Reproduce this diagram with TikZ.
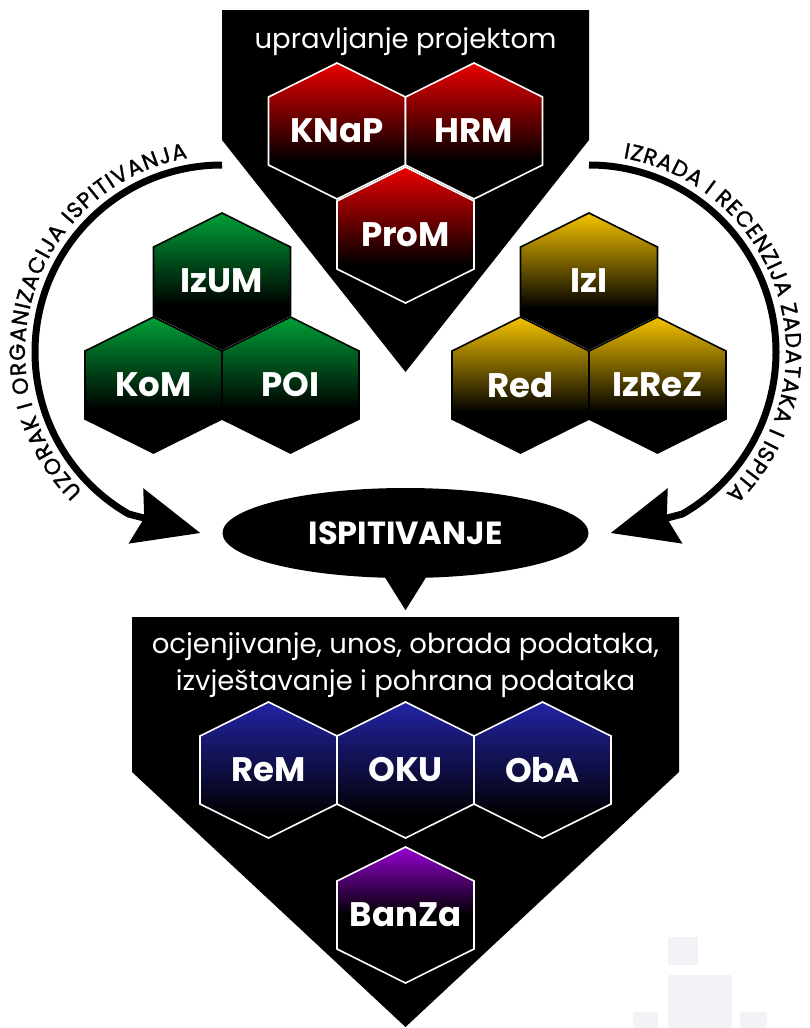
\documentclass[tikz,border=0pt]{standalone}
\usepackage{fontspec}
\setmainfont{Poppins}
\newfontfamily\arcfont{Poppins}[FakeBold=1.3]
\usetikzlibrary{shapes.geometric,arrows.meta,decorations.text,calc}
\definecolor{hexred}{RGB}{235,0,0}
\definecolor{hexgreen}{RGB}{0,160,55}
\definecolor{hexgold}{RGB}{245,195,0}
\definecolor{hexblue}{RGB}{35,35,165}
\definecolor{hexpurple}{RGB}{150,0,210}
\definecolor{iconfill}{RGB}{243,243,247}
\pgfdeclareverticalshading{redhex}{100bp}{color(0bp)=(black); color(39bp)=(black); color(75bp)=(hexred); color(100bp)=(hexred)}
\pgfdeclareverticalshading{greenhex}{100bp}{color(0bp)=(black); color(41bp)=(black); color(75bp)=(hexgreen); color(100bp)=(hexgreen)}
\pgfdeclareverticalshading{goldhex}{100bp}{color(0bp)=(black); color(40bp)=(black); color(75bp)=(hexgold); color(100bp)=(hexgold)}
\pgfdeclareverticalshading{bluehex}{100bp}{color(0bp)=(black); color(33bp)=(black); color(75bp)=(hexblue); color(100bp)=(hexblue)}
\pgfdeclareverticalshading{purplehex}{100bp}{color(0bp)=(black); color(50bp)=(black); color(75bp)=(hexpurple); color(100bp)=(hexpurple)}
\newcommand\hexcell[6]{%
  \shadedraw[shading=#4, draw=#5, line width=1.6pt, line join=miter]
    (#2,-#3+68) -- (#2+68.5,-#3+34) -- (#2+68.5,-#3-34) -- (#2,-#3-68)
    -- (#2-68.5,-#3-34) -- (#2-68.5,-#3+34) -- cycle;
  \node[hexlabel] (#1) at (#2,-#3) {#6};
}
\begin{document}
\begin{tikzpicture}[x=1pt,y=1pt,
  hexlabel/.style={text=white, inner sep=0pt, font=\bfseries\fontsize{34}{34}\selectfont},
  headtext/.style={text=white, inner sep=0pt, font=\fontsize{27.5}{37}\selectfont},
  flowarc/.style={line width=7pt, -{Stealth[length=66pt, width=56pt, inset=8pt]}},
  arctext/.style={decorate, decoration={text along path, text align={fit to path},
      text={#1}}},
  panel/.style={fill=black}]
\useasboundingbox (0,0) rectangle (809,-1028);
\fill[white] (0,0) rectangle (809,-1028);
% faint watermark
\fill[iconfill] (668,-937) rectangle (698,-965);
\fill[iconfill] (668,-975) rectangle (732,-1028);
\fill[iconfill] (633,-1012) rectangle (658,-1028);
\fill[iconfill] (740,-1012) rectangle (767,-1028);
% top panel
\fill[panel] (222,-10) -- (589,-10) -- (589,-140) -- (405.5,-372) -- (222,-140) -- cycle;
\node[headtext] (upr) at (405.5,-42) {upravljanje projektom};
\hexcell{knap}{337}{131}{redhex}{white}{KNaP}
\hexcell{hrm}{474}{131}{redhex}{white}{HRM}
\hexcell{prom}{405.5}{235}{redhex}{white}{ProM}
% green cluster
\hexcell{izum}{222}{281}{greenhex}{black}{IzUM}
\hexcell{kom}{153.5}{385}{greenhex}{black}{KoM}
\hexcell{poi}{290.5}{385}{greenhex}{black}{POI}
% gold cluster
\hexcell{izi}{589}{281}{goldhex}{black}{IzI}
\hexcell{red}{520.5}{385}{goldhex}{black}{Red}
\hexcell{izrez}{657.5}{385}{goldhex}{black}{IzReZ}
% central ellipse
\node[ellipse, fill=black, minimum width=366pt, minimum height=90pt, inner sep=0pt,
      text=white, font=\bfseries\fontsize{32}{32}\selectfont] (ispit) at (405.5,-533) {ISPITIVANJE};
\fill ($(ispit.south)+(-25,8)$) -- ($(ispit.south)+(25,8)$) -- ($(ispit.south)+(0,-32)$) -- cycle;
% arrows
\coordinate (Ls) at (222,-165);
\coordinate (Rs) at (589,-165);
\coordinate (CL) at (222,-352);
\coordinate (CR) at (589,-352);
\draw[flowarc] (Ls) arc[start angle=90, end angle=240, radius=187] -- ($(ispit.west)+(-22,0)$);
\draw[flowarc] (Rs) arc[start angle=90, end angle=-60, radius=187] -- ($(ispit.east)+(22,0)$);
{\arcfont\fontsize{22}{22}\selectfont
\path[arctext={UZORAK I ORGANIZACIJA ISPITIVANJA}] (CL) ++(225:197) arc[start angle=225, end angle=100, radius=197];
\path[arctext={IZRADA I RECENZIJA ZADATAKA I ISPITA}] (CR) ++(80:197) arc[start angle=80, end angle=-46, radius=197];
}
% bottom panel
\fill[panel] (132,-617) -- (679,-617) -- (679,-772) -- (405.5,-1027) -- (132,-772) -- cycle;
\node[headtext, align=center] (bot) at (405.5,-665) {ocjenjivanje, unos, obrada podataka,\\izvještavanje i pohrana podataka};
\hexcell{rem}{268.5}{770}{bluehex}{white}{ReM}
\hexcell{oku}{405.5}{770}{bluehex}{white}{OKU}
\hexcell{oba}{542.5}{770}{bluehex}{white}{ObA}
\hexcell{banza}{405.5}{915}{purplehex}{white}{BanZa}
\end{tikzpicture}
\end{document}
